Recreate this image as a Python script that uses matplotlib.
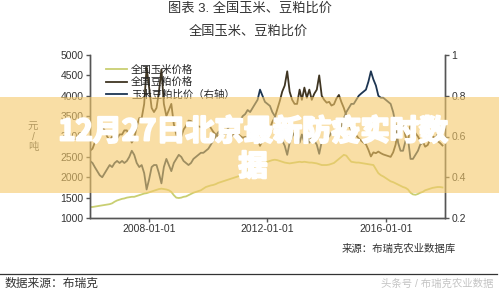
import pandas as pd
import matplotlib
matplotlib.use('Agg')
import matplotlib.pyplot as plt
import matplotlib.dates as mdates
import matplotlib.patheffects as pe
from matplotlib.patches import Rectangle
from matplotlib.ticker import FuncFormatter

plt.rcParams['font.family'] = ['Liberation Sans', 'Noto Sans CJK SC', 'DejaVu Sans']

# monthly values, 2006-01 .. 2017-12
corn_price = [
    1270, 1270, 1280, 1290, 1300, 1310, 1320, 1330, 1340, 1360, 1400, 1430,
    1450, 1470, 1480, 1500, 1510, 1520, 1520, 1540, 1560, 1580, 1600, 1610,
    1630, 1650, 1670, 1690, 1710, 1720, 1710, 1700, 1680, 1640, 1560, 1500,
    1490, 1500, 1520, 1530, 1560, 1590, 1620, 1640, 1660, 1680, 1720, 1760,
    1780, 1800, 1810, 1830, 1860, 1880, 1900, 1920, 1940, 1960, 1980, 2000,
    2020, 2050, 2080, 2120, 2160, 2200, 2240, 2270, 2290, 2300, 2320, 2340,
    2380, 2400, 2420, 2430, 2420, 2400, 2380, 2360, 2350, 2340, 2350, 2360,
    2370, 2380, 2370, 2380, 2370, 2360, 2360, 2350, 2340, 2320, 2300, 2300,
    2300, 2310, 2330, 2350, 2400, 2450, 2500, 2550, 2530, 2450, 2380, 2370,
    2360, 2360, 2350, 2340, 2330, 2320, 2310, 2300, 2200, 2100, 2050, 2020,
    1980, 1940, 1900, 1880, 1850, 1820, 1790, 1760, 1740, 1700, 1620, 1580,
    1570, 1590, 1620, 1640, 1680, 1700, 1720, 1740, 1750, 1760, 1760, 1750,
]
meal_price = [
    2650, 2700, 2850, 3000, 3150, 3250, 3150, 3000, 2900, 3000, 2950, 2950,
    3050, 3050, 3150, 3150, 3000, 2850, 2950, 3250, 3450, 3450, 3800, 4700,
    4200, 3700, 3600, 3700, 4100, 4650, 3800, 3500, 3650, 3800, 3300, 3050,
    2920, 3000, 3170, 3260, 3390, 3380, 3310, 3280, 3250, 3230, 3310, 3320,
    3300, 3210, 3120, 3050, 3000, 2980, 3110, 3100, 3030, 2970, 3050, 2990,
    3060, 3010, 2970, 2990, 2960, 3060, 3030, 2990, 2940, 2770, 2900, 3040,
    3130, 3200, 3360, 3470, 3670, 3870, 4100, 4250, 4600, 4100, 3900, 3800,
    3800, 4150, 3900, 4200, 3950, 4150, 3900, 4050, 4150, 4500, 4000, 3900,
    3830, 3850, 3760, 3790, 3930, 4020, 3850, 3700, 3510, 3310, 3130, 3120,
    3030, 2950, 2900, 2850, 2810, 2670, 2510, 2610, 2590, 2630, 2590, 2560,
    2540, 2520, 2500, 2610, 2800, 3190, 3380, 3320, 3000, 2880, 3310, 3220,
    3080, 3000, 2890, 2880, 2750, 2790, 2920, 3000, 2970, 2890, 2840, 2780,
]
ratio = [
    0.48, 0.47, 0.45, 0.43, 0.41, 0.40, 0.42, 0.44, 0.46, 0.45, 0.47, 0.48,
    0.47, 0.48, 0.47, 0.48, 0.50, 0.53, 0.51, 0.47, 0.45, 0.46, 0.42, 0.34,
    0.39, 0.45, 0.46, 0.46, 0.42, 0.37, 0.45, 0.49, 0.46, 0.43, 0.47, 0.49,
    0.51, 0.50, 0.48, 0.47, 0.46, 0.47, 0.49, 0.50, 0.51, 0.52, 0.52, 0.53,
    0.54, 0.56, 0.58, 0.60, 0.62, 0.63, 0.61, 0.62, 0.64, 0.66, 0.65, 0.67,
    0.66, 0.68, 0.70, 0.71, 0.73, 0.72, 0.74, 0.76, 0.78, 0.83, 0.80, 0.77,
    0.76, 0.75, 0.72, 0.70, 0.66, 0.62, 0.58, 0.555, 0.51, 0.57, 0.60, 0.62,
    0.62, 0.57, 0.61, 0.57, 0.60, 0.57, 0.605, 0.58, 0.56, 0.515, 0.575, 0.59,
    0.60, 0.60, 0.62, 0.62, 0.61, 0.61, 0.65, 0.69, 0.72, 0.74, 0.76, 0.76,
    0.78, 0.80, 0.81, 0.82, 0.83, 0.87, 0.92, 0.88, 0.85, 0.80, 0.79, 0.79,
    0.78, 0.77, 0.76, 0.72, 0.66, 0.57, 0.53, 0.53, 0.58, 0.59, 0.49, 0.49,
    0.51, 0.53, 0.56, 0.57, 0.61, 0.61, 0.59, 0.58, 0.59, 0.61, 0.62, 0.63,
]
dates = pd.date_range('2006-01-01', periods=len(corn_price), freq='MS')

left_ticks = [1000, 1500, 2000, 2500, 3000, 3500, 4000, 4500, 5000]
right_ticks = [0.2, 0.4, 0.6, 0.8, 1.0]
x_ticks = ['2008-01-01', '2012-01-01', '2016-01-01']
series_names = ['全国玉米价格', '全国豆粕价格', '玉米豆粕比价（右轴）']

fig = plt.figure(figsize=(4.99, 2.92), dpi=100)
ax1 = fig.add_axes([90 / 499, 1 - 218 / 292, 355 / 499, 163 / 292])
ax2 = ax1.twinx()

c_corn = '#C9CF72'
c_meal = '#3F3522'
c_ratio = '#1D3552'
axis_col = '#555555'

l1, = ax1.plot(dates, corn_price, color=c_corn, lw=1.3, label=series_names[0])
l2, = ax1.plot(dates, meal_price, color=c_meal, lw=1.3, label=series_names[1])
l3, = ax2.plot(dates, ratio, color=c_ratio, lw=1.3, label=series_names[2])

ax1.set_ylim(1000, 5000)
ax2.set_ylim(0.2, 1.0)
ax1.set_xlim(pd.Timestamp('2006-01-01'), pd.Timestamp('2018-01-01'))
ax1.set_yticks(left_ticks)
ax2.set_yticks(right_ticks)
ax2.yaxis.set_major_formatter(FuncFormatter(lambda v, p: '%g' % v))
ax1.set_xticks([pd.Timestamp(t) for t in x_ticks])
ax1.xaxis.set_major_formatter(mdates.DateFormatter('%Y-%m-%d'))

for ax in (ax1, ax2):
    ax.spines['top'].set_visible(False)
    for s in ('left', 'right', 'bottom'):
        ax.spines[s].set_color(axis_col)
        ax.spines[s].set_linewidth(1.0)
    ax.tick_params(direction='out', length=3, width=1, color=axis_col,
                   labelsize=7.5, labelcolor='#333333', pad=1.5)

leg = ax1.legend([l1, l2, l3], series_names, loc='upper left',
                 bbox_to_anchor=(0.025, 0.985), frameon=False, fontsize=7.5,
                 handlelength=2.0, handletextpad=0.4, labelspacing=0.22,
                 borderpad=0.2)
for t in leg.get_texts():
    t.set_color('#222222')

# titles and notes
fig.text(250 / 499, 1 - 9 / 292, '图表 3. 全国玉米、豆粕比价', ha='center', va='center',
         fontsize=9.5, color='#333333')
fig.text(248 / 499, 1 - 32 / 292, '全国玉米、豆粕比价', ha='center', va='center',
         fontsize=9.5, color='#333333')
fig.text(33 / 499, 1 - 137 / 292, '元\n/\n吨', ha='center', va='center',
         fontsize=7.5, color='#555555', linespacing=1.0)
fig.text(399 / 499, 1 - 249 / 292, '来源：布瑞克农业数据库', ha='center', va='center',
         fontsize=7.5, color='#333333')
fig.add_artist(plt.Line2D([0, 0.996], [1 - 274 / 292] * 2, transform=fig.transFigure,
                          color='#333333', lw=0.9))
fig.text(5 / 499, 1 - 284 / 292, '数据来源：布瑞克', ha='left', va='center',
         fontsize=8.5, color='#333333')
fig.text(493 / 499, 1 - 284 / 292, '头条号 / 布瑞克农业数据', ha='right', va='center',
         fontsize=7.5, color='#c4c4c4')

# translucent banner with headline
band = Rectangle((0, 1 - 193 / 292), 1, 96 / 292, transform=fig.transFigure,
                 facecolor='#F5C96A', alpha=0.6, edgecolor='none', zorder=5)
fig.add_artist(band)
fig.text(253 / 499, 1 - 149 / 292, '12月27日北京最新防疫实时数\n据', ha='center', va='center',
         fontsize=21, color='white', fontweight='bold', linespacing=1.22,
         family=['Noto Sans CJK SC', 'DejaVu Sans'], zorder=6,
         path_effects=[pe.withStroke(linewidth=1.6, foreground='white')])

plt.savefig('out.png', dpi=100)
